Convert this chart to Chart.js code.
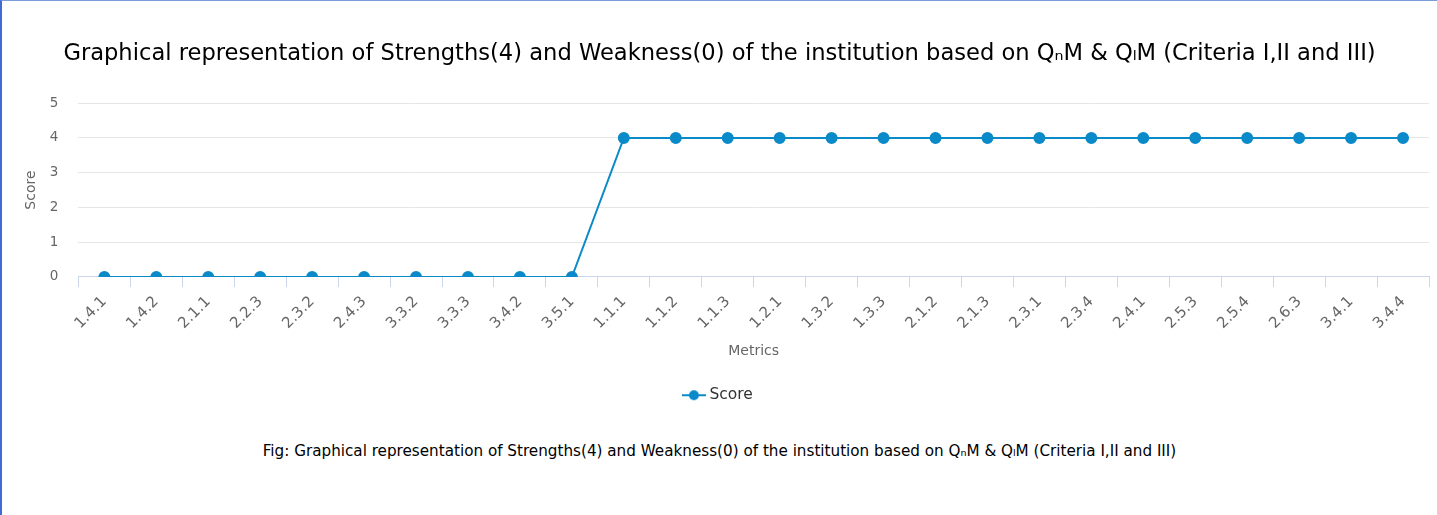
<!DOCTYPE html>
<html>
<head>
<meta charset="utf-8">
<script src="https://cdn.jsdelivr.net/npm/chart.js@4"></script>
<style>
  html, body { margin: 0; padding: 0; background: #fff; }
  .frame {
    position: relative; width: 1435px; height: 514px;
    border-left: 2px solid #3f6bd2; border-top: 1px solid #7b9bdb;
    font-family: "DejaVu Sans", sans-serif;
  }
  canvas { position: absolute; left: 0; top: 0; }
  .caption {
    position: absolute; left: 0; right: 0; top: 441px;
    text-align: center; font-size: 15.2px; color: #000;
  }
</style>
</head>
<body>
<div class="frame">
  <canvas id="c" width="1435" height="412"></canvas>
  <div class="caption">Fig: Graphical representation of Strengths(4) and Weakness(0) of the institution based on QₙM &amp; QₗM (Criteria I,II and III)</div>
</div>
<script>
// metriche e punteggi
const METRICS = ['1.4.1', '1.4.2', '2.1.1', '2.2.3', '2.3.2', '2.4.3', '3.3.2', '3.3.3', '3.4.2', '3.5.1',
  '1.1.1', '1.1.2', '1.1.3', '1.2.1', '1.3.2', '1.3.3', '2.1.2', '2.1.3', '2.3.1', '2.3.4',
  '2.4.1', '2.5.3', '2.5.4', '2.6.3', '3.4.1', '3.4.4'];
const SCORES = [0, 0, 0, 0, 0, 0, 0, 0, 0, 0,
  4, 4, 4, 4, 4, 4, 4, 4, 4, 4,
  4, 4, 4, 4, 4, 4];
const Y_TICKS = [0, 1, 2, 3, 4, 5];

const BLUE = '#0a8ac9';
const FONT = '"DejaVu Sans", sans-serif';

// simbolo legenda: linea + pallino
function legendSymbol() {
  const cv = document.createElement('canvas');
  cv.width = 24; cv.height = 12;
  const g = cv.getContext('2d');
  g.strokeStyle = BLUE; g.lineWidth = 2;
  g.beginPath(); g.moveTo(0, 6); g.lineTo(24, 6); g.stroke();
  g.fillStyle = BLUE;
  g.beginPath(); g.arc(12, 6, 5, 0, Math.PI * 2); g.fill();
  return cv;
}

new Chart(document.getElementById('c'), {
  type: 'line',
  data: {
    labels: METRICS,
    datasets: [{
      label: 'Score',
      data: SCORES,
      borderColor: BLUE,
      backgroundColor: BLUE,
      borderWidth: 2,
      pointRadius: 5,
      pointHoverRadius: 5,
      pointBackgroundColor: BLUE,
      pointBorderColor: BLUE,
      pointStyle: 'circle',
      tension: 0,
    }],
  },
  options: {
    responsive: false,
    animation: false,
    layout: { padding: { left: 8, right: 8, top: 0, bottom: 0 } },
    scales: {
      x: {
        offset: true,
        title: { display: true, text: 'Metrics', color: '#666', font: { family: FONT, size: 14 }, padding: { top: 4 } },
        ticks: { color: '#666', font: { family: FONT, size: 15 }, minRotation: 45, maxRotation: 45, padding: 6 },
        grid: { offset: true, drawOnChartArea: false, drawTicks: true, tickLength: 10, color: '#ccd6eb' },
        border: { color: '#ccd6eb' },
      },
      y: {
        min: 0, max: 5,
        afterBuildTicks: (ax) => { ax.ticks = Y_TICKS.map((v) => ({ value: v })); },
        title: { display: true, text: 'Score', color: '#666', font: { family: FONT, size: 14 }, padding: { top: 13, bottom: -10 } },
        ticks: { color: '#666', font: { family: FONT, size: 13.5 }, padding: 20 },
        grid: { color: '#e6e6e6', drawTicks: false },
        border: { display: false },
      },
    },
    plugins: {
      title: {
        display: true,
        text: 'Graphical representation of Strengths(4) and Weakness(0) of the institution based on QₙM & QₗM (Criteria I,II and III)',
        color: '#000',
        font: { family: FONT, size: 22.6, weight: 'normal' },
        padding: { top: 40, bottom: 35 },
      },
      legend: {
        position: 'bottom',
        labels: {
          color: '#333', font: { family: FONT, size: 15.5 }, padding: 24,
          usePointStyle: true,
          generateLabels: (chart) => chart.data.datasets.map((d, i) => ({
            text: d.label, pointStyle: legendSymbol(), fontColor: '#333', datasetIndex: i,
            lineWidth: 0, strokeStyle: 'transparent', fillStyle: BLUE,
          })),
        },
      },
      tooltip: { enabled: false },
    },
  },
});
</script>
</body>
</html>
